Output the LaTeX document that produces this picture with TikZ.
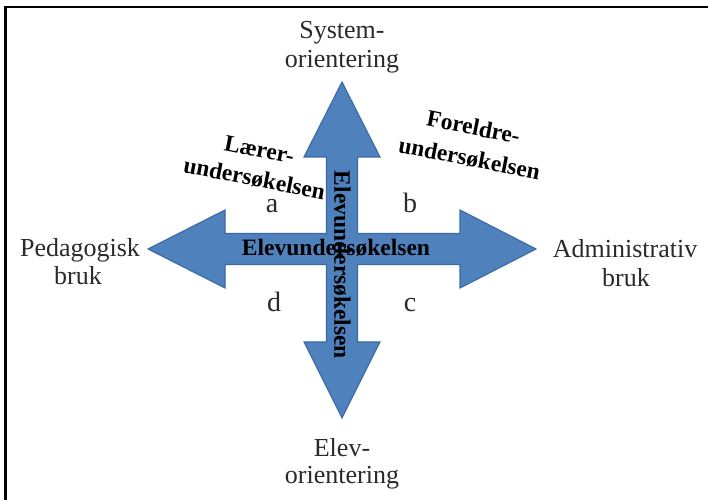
\documentclass[tikz,border=0pt]{standalone}
\usepackage{fontspec}
\setmainfont{Liberation Serif}
\definecolor{arrowfill}{HTML}{4F81BD}
\definecolor{arrowline}{HTML}{3A6AA3}
\definecolor{labelgrey}{HTML}{2A2A2A}
\tikzset{
  outerlabel/.style={anchor=base, inner sep=0pt, text=labelgrey, font=\fontsize{26}{29}\selectfont},
  quadlabel/.style={anchor=base, inner sep=0pt, text=labelgrey, font=\fontsize{28}{30}\selectfont},
  survey/.style={inner sep=0pt, text=black, font=\bfseries\fontsize{23.5}{29}\selectfont},
  slantline/.style={survey, anchor=base, rotate=-11},
  bigarrow/.style={fill=arrowfill, draw=arrowline, line width=1.1pt, line join=miter},
  frameline/.style={draw=black, line width=2.2pt}
}
\begin{document}
\begin{tikzpicture}[x=1pt,y=1pt]
\useasboundingbox (0,0) rectangle (708,500);
% frame (top and left edges)
\draw[frameline] (5.5,0) -- (5.5,493) -- (708,493);
% four-way arrow
\path[bigarrow] (342,418) -- (380,343) -- (357.5,343) -- (357.5,266.5) -- (460,266.5) -- (460,290) -- (536,251) -- (460,212) -- (460,235.5) -- (357.5,235.5) -- (357.5,158) -- (380,158) -- (342,82) -- (304,158) -- (326.5,158) -- (326.5,235.5) -- (225,235.5) -- (225,212) -- (148,251) -- (225,290) -- (225,266.5) -- (326.5,266.5) -- (326.5,343) -- (304,343) -- cycle;
% outer labels
\node[outerlabel] (sys1) at (342,461) {System-};
\node[outerlabel] (sys2) at (342,432) {orientering};
\node[outerlabel] (elev1) at (342,44) {Elev-};
\node[outerlabel] (elev2) at (342,17) {orientering};
\node[outerlabel] (ped1) at (80,243) {Pedagogisk};
\node[outerlabel] (ped2) at (78,215) {bruk};
\node[outerlabel] (adm1) at (625,242) {Administrativ};
\node[outerlabel] (adm2) at (626,213) {bruk};
% quadrant letters
\node[quadlabel] (qa) at (272,287) {a};
\node[quadlabel] (qb) at (410,287) {b};
\node[quadlabel] (qd) at (274,188) {d};
\node[quadlabel] (qc) at (410,188) {c};
% surveys
\node[survey, anchor=base] (hsurv) at (336,244) {Elevundersøkelsen};
\node[survey, rotate=-90] (vsurv) at (342,235) {Elevundersøkelsen};
\node[slantline] (laerer1) at (258,343) {Lærer-};
\node[slantline] (laerer2) at (253,314) {undersøkelsen};
\node[slantline] (foreldre1) at (472,365) {Foreldre-};
\node[slantline] (foreldre2) at (468,334) {undersøkelsen};
\end{tikzpicture}
\end{document}
